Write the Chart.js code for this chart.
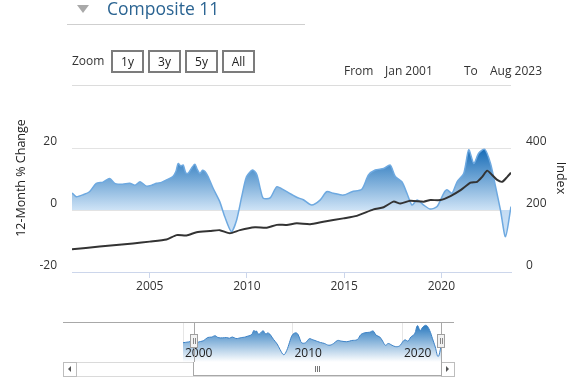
<!DOCTYPE html>
<html><head><meta charset="utf-8">
<script src="https://cdn.jsdelivr.net/npm/chart.js@4/dist/chart.umd.min.js"></script>
<style>
html,body{margin:0;padding:0;background:#fff;width:588px;height:383px;overflow:hidden;font-family:"Open Sans",sans-serif;color:#333;}
.abs{position:absolute;}
.t12{font-size:12px;line-height:16px;height:16px;white-space:nowrap;}
.btn{position:absolute;top:50px;width:29px;height:19px;border:2px solid #7c7c7c;font-size:12px;line-height:19px;text-align:center;color:#222;}
</style></head>
<body>
<canvas id="main" class="abs" style="left:0;top:0;width:588px;height:383px"></canvas>
<canvas id="nav" class="abs" style="left:63px;top:322px;width:391px;height:40px"></canvas>

<div class="abs" style="left:77px;top:5px;width:0;height:0;border-left:6px solid transparent;border-right:6px solid transparent;border-top:8px solid #a9a9a9"></div>
<div class="abs" style="left:107px;top:-3px;font-size:17.5px;line-height:22px;color:#2b6492;white-space:nowrap">Composite 11</div>
<div class="abs" style="left:67px;top:24px;width:238px;height:1px;background:#cfcfcf"></div>

<div class="abs t12" style="left:72px;top:53px">Zoom</div>
<div class="btn" style="left:111px">1y</div>
<div class="btn" style="left:148px">3y</div>
<div class="btn" style="left:185px">5y</div>
<div class="btn" style="left:222px">All</div>
<div class="abs t12" style="left:344px;top:63px">From</div>
<div class="abs t12" style="left:385px;top:63px">Jan 2001</div>
<div class="abs t12" style="left:464px;top:63px">To</div>
<div class="abs t12" style="left:490px;top:63px">Aug 2023</div>
<div class="abs" style="left:72px;top:85px;width:439px;height:1px;background:#dcdcdc"></div>

<!-- scrollbar -->
<div class="abs" style="left:63px;top:362px;width:389px;height:13px;border:1px solid #dadada;background:#fff"></div>
<div class="abs" style="left:63px;top:362px;width:12px;height:13px;border:1px solid #bdbdbd;background:#fff"></div>
<div class="abs" style="left:68px;top:366px;width:0;height:0;border-top:3px solid transparent;border-bottom:3px solid transparent;border-right:3px solid #555"></div>
<div class="abs" style="left:441px;top:362px;width:12px;height:13px;border:1px solid #bdbdbd;background:#fff"></div>
<div class="abs" style="left:446px;top:366px;width:0;height:0;border-top:3px solid transparent;border-bottom:3px solid transparent;border-left:3px solid #555"></div>
<div class="abs" style="left:193px;top:362px;width:247px;height:13px;border:1px solid #a8a8a8;border-top:none;background:#fff"></div>
<div class="abs" style="left:315px;top:366px;width:1px;height:6px;background:#777"></div>
<div class="abs" style="left:317px;top:366px;width:1px;height:6px;background:#777"></div>
<div class="abs" style="left:319px;top:366px;width:1px;height:6px;background:#777"></div>

<script>
// 12-month % change (decimal year, value)
const pctDates = [2000.0,2000.5,2001.0,2001.22,2001.6,2001.9,2002.25,2002.6,2002.94,2003.2,2003.6,2003.97,2004.25,2004.5,2004.83,2005.1,2005.35,2005.6,2005.86,2006.19,2006.35,2006.46,2006.6,2006.72,2006.85,2006.97,2007.15,2007.32,2007.45,2007.58,2007.72,2007.84,2008.0,2008.26,2008.6,2008.86,2009.2,2009.47,2009.73,2009.98,2010.29,2010.5,2010.7,2010.84,2011.19,2011.53,2011.8,2012.05,2012.3,2012.56,2012.9,2013.33,2013.76,2014.1,2014.45,2014.96,2015.4,2015.91,2016.25,2016.6,2017.03,2017.37,2017.63,2017.97,2018.23,2018.49,2018.75,2019.09,2019.43,2019.78,2020.12,2020.29,2020.55,2020.81,2021.15,2021.41,2021.67,2021.92,2022.23,2022.53,2022.79,2023.04,2023.3,2023.583];
const pctValues = [3.9,4.6,5.4,4.3,5.0,5.9,8.6,9.0,10.2,8.6,8.3,8.6,8.0,9.1,7.7,8.0,8.6,8.9,9.7,10.8,12.5,15.0,14.2,14.5,12.0,11.8,13.5,14.8,13.0,11.8,12.8,12.4,10.8,7.0,2.7,-2.2,-7.0,-3.2,4.3,10.8,12.9,11.5,6.5,3.8,3.9,7.5,6.8,5.9,5.0,4.1,3.3,1.6,3.2,5.9,5.4,4.8,5.9,6.7,11.3,12.9,13.4,14.5,10.8,9.1,5.4,1.6,3.2,1.6,0.3,1.1,5.4,6.5,5.4,9.1,11.8,19.4,15.0,18.3,19.6,15.0,7.5,0.0,-8.6,1.1];
// Index level (decimal year, value)
const idxDates = [2001.0,2002.42,2004.14,2005.0,2005.86,2006.38,2006.89,2007.41,2008.1,2008.6,2009.12,2009.64,2010.41,2011.02,2011.53,2012.05,2012.56,2013.25,2013.93,2014.96,2015.65,2016.51,2017.03,2017.54,2017.89,2018.4,2019.09,2019.43,2019.95,2020.47,2020.99,2021.5,2021.84,2022.1,2022.36,2022.61,2022.87,2023.13,2023.39,2023.583];
const idxValues = [73,82,92,98,105,119,118,128,132,135,125,135,144,143,152,152,157,154,162,173,181,202,209,227,221,230,227,232,232,245,264,288,291,307,327,313,297,291,307,320];
// tick labels
const xTicks = [2005,2010,2015,2020];
const leftTicks = [-20,0,20];
const rightTicks = [0,200,400];
const navTicks = [2000,2010,2020];
const rangeFrom = 2001.0, rangeTo = 2023.583;

const pctData = pctDates.map((d,i)=>({x:d,y:pctValues[i]}));
const idxData = idxDates.map((d,i)=>({x:d,y:idxValues[i]}));
const FONT = '"Open Sans", sans-serif';

function areaGrad(ctx){
  const ch = ctx.chart, a = ch.chartArea;
  if(!a) return '#8ab8e6';
  const ys = ch.scales.y;
  const top = ys.getPixelForValue(20), zero = ys.getPixelForValue(0), bot = ys.getPixelForValue(-20);
  const g = ch.ctx.createLinearGradient(0, top, 0, bot);
  const z = (zero-top)/(bot-top);
  g.addColorStop(0, 'rgb(20,106,182)');
  g.addColorStop(z, 'rgb(206,227,246)');
  g.addColorStop(z, 'rgb(196,220,243)');
  g.addColorStop(1, 'rgb(214,232,250)');
  return g;
}

const titlesPlugin = {
  id:'titles',
  afterDraw(ch){
    const c = ch.ctx;
    c.save();
    c.fillStyle = '#222';
    c.font = '12.5px ' + FONT;
    c.textAlign = 'center'; c.textBaseline = 'middle';
    c.translate(21, 178); c.rotate(-Math.PI/2);
    c.fillText('12-Month % Change', 0, 0);
    c.restore();
    c.save();
    c.fillStyle = '#222';
    c.font = '12.5px ' + FONT;
    c.textAlign = 'center'; c.textBaseline = 'middle';
    c.translate(561, 178); c.rotate(Math.PI/2);
    c.fillText('Index', 0, 0);
    c.restore();
  }
};

new Chart(document.getElementById('main'), {
  type:'line',
  data:{datasets:[
    {data:pctData, yAxisID:'y', borderColor:'#6ea9e0', borderWidth:1.5, pointRadius:0, tension:0.25, fill:'origin', backgroundColor:areaGrad, order:2},
    {data:idxData, yAxisID:'y1', borderColor:'#333333', borderWidth:2, pointRadius:0, tension:0.2, fill:false, order:1}
  ]},
  options:{
    responsive:false, animation:false, devicePixelRatio:1,
    layout:{padding:{left:0,right:0,top:148,bottom:85}},
    plugins:{legend:{display:false}, tooltip:{enabled:false}},
    scales:{
      x:{type:'linear', min:rangeFrom, max:rangeTo,
        afterBuildTicks:s=>{s.ticks = xTicks.map(v=>({value:v}));},
        afterFit:s=>{s.height = 26;},
        grid:{drawOnChartArea:false, drawTicks:true, tickLength:6, color:'#ccd6eb'},
        border:{color:'#ccd6eb'},
        ticks:{padding:1, color:'#333', font:{family:FONT, size:12}, callback:v=>String(v), maxRotation:0}
      },
      y:{position:'left', min:-20, max:20,
        afterBuildTicks:s=>{s.ticks = leftTicks.map(v=>({value:v}));},
        afterFit:s=>{s.width = 72;},
        grid:{drawTicks:false, color:'#e3e3e3'},
        border:{display:false},
        ticks:{padding:15, labelOffset:-6, color:'#333', font:{family:FONT, size:12}, callback:v=>String(v)}
      },
      y1:{position:'right', min:0, max:400,
        afterBuildTicks:s=>{s.ticks = rightTicks.map(v=>({value:v}));},
        afterFit:s=>{s.width = 77;},
        grid:{drawOnChartArea:false, drawTicks:false},
        border:{display:false},
        ticks:{padding:15, labelOffset:-6, color:'#333', font:{family:FONT, size:12}, callback:v=>String(v)}
      }
    }
  },
  plugins:[titlesPlugin]
});

function navGrad(ctx){
  const ch = ctx.chart, a = ch.chartArea;
  if(!a) return '#8ab8e6';
  const g = ch.ctx.createLinearGradient(0, a.top, 0, a.bottom);
  g.addColorStop(0, 'rgb(24,110,185)');
  g.addColorStop(1, 'rgb(255,255,255)');
  return g;
}

const navPlugin = {
  id:'navdeco',
  beforeDatasetsDraw(ch){
    const c = ch.ctx, a = ch.chartArea, xs = ch.scales.x;
    c.save();
    c.strokeStyle = '#e6e6e6'; c.lineWidth = 1;
    navTicks.forEach(v=>{
      const x = Math.round(xs.getPixelForValue(v)) + 0.5;
      c.beginPath(); c.moveTo(x, a.top); c.lineTo(x, a.bottom); c.stroke();
    });
    c.restore();
  },
  afterDatasetsDraw(ch){
    const c = ch.ctx, a = ch.chartArea, xs = ch.scales.x;
    c.save();
    c.fillStyle = '#222';
    c.font = '12px ' + FONT;
    c.textAlign = 'left'; c.textBaseline = 'middle';
    navTicks.forEach(v=>{
      c.fillText(String(v), xs.getPixelForValue(v) + 2, a.top + 32);
    });
    // outline
    c.strokeStyle = '#a8a8a8'; c.lineWidth = 1;
    c.beginPath(); c.moveTo(a.left, a.top + 0.5); c.lineTo(a.right, a.top + 0.5); c.stroke();
    [rangeFrom, rangeTo].forEach(v=>{
      const x = Math.round(xs.getPixelForValue(v)) + 0.5;
      c.beginPath(); c.moveTo(x, a.top); c.lineTo(x, a.bottom); c.stroke();
    });
    // handles
    [rangeFrom, rangeTo].forEach(v=>{
      const x = Math.round(xs.getPixelForValue(v));
      c.fillStyle = '#f2f2f2'; c.strokeStyle = '#a0a0a0';
      c.fillRect(x-3.5, 12.5, 7, 13); c.strokeRect(x-3.5, 12.5, 7, 13);
      c.strokeStyle = '#888';
      c.beginPath(); c.moveTo(x-0.5, 16); c.lineTo(x-0.5, 22); c.moveTo(x+1.5, 16); c.lineTo(x+1.5, 22); c.stroke();
    });
    c.restore();
  }
};

new Chart(document.getElementById('nav'), {
  type:'line',
  data:{datasets:[
    {data:pctData, borderColor:'#3d82c6', borderWidth:1, pointRadius:0, tension:0.4, fill:'start', backgroundColor:navGrad}
  ]},
  options:{
    responsive:false, animation:false, devicePixelRatio:1,
    layout:{padding:0},
    plugins:{legend:{display:false}, tooltip:{enabled:false}},
    scales:{
      x:{type:'linear', display:false, min:1989.04, max:2024.75},
      y:{display:false, min:-13.6, max:22.7}
    }
  },
  plugins:[navPlugin]
});
</script>
</body></html>
